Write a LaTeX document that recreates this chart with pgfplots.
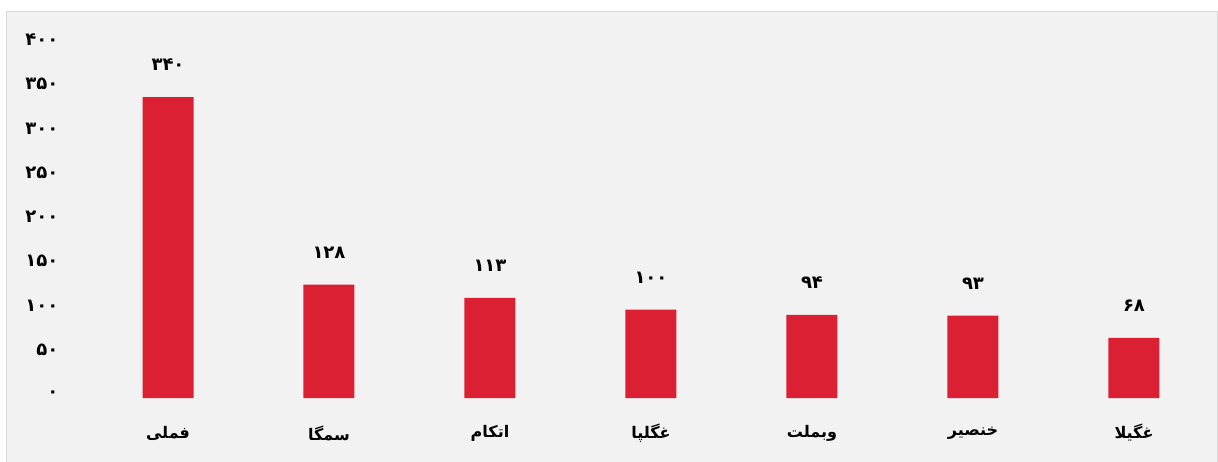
\documentclass[border=0pt]{standalone}
\usepackage{pgfplots}
\pgfplotsset{compat=1.18}
\usepackage{fontspec}
\setmainfont{DejaVu Sans}
\newfontfamily\arabicfont[Script=Arabic]{DejaVu Sans}
\TeXXeTstate=1
\newcommand\fa[1]{\arabicfont\beginR #1\endR}
\definecolor{barred}{RGB}{220,32,52}
\definecolor{panel}{RGB}{242,242,242}
\definecolor{frame}{RGB}{217,217,217}
\begin{document}
\begin{tikzpicture}
\path[use as bounding box] (0pt,0pt) rectangle (1218pt,461pt);
\fill[white] (0pt,0pt) rectangle (1218pt,461pt);
\filldraw[fill=panel, draw=frame, line width=1pt] (6.5pt,-3pt) rectangle (1217.5pt,449.5pt);
\begin{axis}[
    at={(168pt,63pt)}, anchor=origin,
    scale only axis,
    width=1127pt, height=354pt,
    xmin=-0.5, xmax=6.5,
    ymin=0, ymax=400,
    axis line style={draw=none},
    major tick length=0pt,
    ybar, bar width=51pt,
    xtick={0,...,6},
    xticklabels={\fa{فملی},\fa{سمگا},\fa{اتکام},\fa{غگلپا},\fa{وبملت},\fa{خنصیر},\fa{غگیلا}},
    xticklabel style={font=\arabicfont\bfseries\fontsize{16}{16}\selectfont, anchor=center, inner sep=0pt, yshift=-35pt},
    ytick={0,50,...,400},
    yticklabels={۰,۵۰,۱۰۰,۱۵۰,۲۰۰,۲۵۰,۳۰۰,۳۵۰,۴۰۰},
    yticklabel style={font=\arabicfont\bfseries\fontsize{18}{18}\selectfont, anchor=east, inner sep=0pt, xshift=-29pt, yshift=4pt},
    point meta=explicit symbolic,
    nodes near coords,
    nodes near coords style={font=\arabicfont\bfseries\fontsize{18}{18}\selectfont, anchor=center, inner sep=0pt, yshift=32pt},
]
\addplot[fill=barred, draw=none] coordinates {
    (0,340) [۳۴۰]
    (1,128) [۱۲۸]
    (2,113) [۱۱۳]
    (3,100) [۱۰۰]
    (4,94)  [۹۴]
    (5,93)  [۹۳]
    (6,68)  [۶۸]
};
\end{axis}
\end{tikzpicture}
\end{document}
